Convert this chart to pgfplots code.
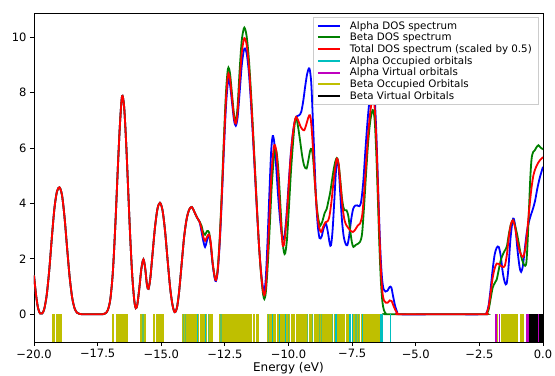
\documentclass[border=0pt]{standalone}
\usepackage{pgfplots}
\pgfplotsset{compat=1.18}
\usepackage{pgfplotstable}
\usepackage{fontspec}
\setmainfont{DejaVu Sans}
\usetikzlibrary{calc}
\definecolor{mplb}{rgb}{0,0,1}
\definecolor{mplg}{rgb}{0,0.5,0}
\definecolor{mplr}{rgb}{1,0,0}
\definecolor{mplc}{rgb}{0,0.75,0.75}
\definecolor{mplm}{rgb}{0.75,0,0.75}
\definecolor{mply}{rgb}{0.75,0.75,0}

\pgfplotstableread{
x y
-20.00 1.40
-19.92 0.70
-19.84 0.22
-19.76 0.03
-19.68 0.03
-19.60 0.18
-19.50 0.70
-19.40 1.60
-19.30 2.75
-19.20 3.80
-19.10 4.42
-19.00 4.58
-18.90 4.30
-18.80 3.50
-18.70 2.40
-18.60 1.35
-18.50 0.60
-18.40 0.20
-18.30 0.05
-18.20 0.01
-18.00 0.00
-17.60 0.00
-17.30 0.00
-17.20 0.03
-17.10 0.15
-17.00 0.55
-16.90 1.55
-16.80 3.30
-16.70 5.40
-16.62 6.90
-16.54 7.87
-16.46 7.50
-16.38 6.20
-16.30 4.50
-16.22 2.80
-16.14 1.40
-16.06 0.50
-16.00 0.22
-15.94 0.35
-15.86 0.95
-15.78 1.65
-15.70 1.98
-15.63 1.65
-15.56 1.05
-15.50 0.92
-15.43 1.30
-15.35 2.10
-15.25 3.10
-15.15 3.80
-15.05 4.02
-14.95 3.75
-14.85 3.00
-14.75 1.95
-14.65 0.95
-14.57 0.40
-14.50 0.12
-14.45 0.08
-14.38 0.25
-14.30 0.80
-14.20 1.80
-14.10 2.80
-14.00 3.45
-13.90 3.78
-13.80 3.87
-13.70 3.70
-13.60 3.50
-13.50 3.35
-13.42 3.10
-13.35 2.80
-13.28 2.65
-13.20 2.80
-13.12 2.88
-13.05 2.55
-12.98 1.85
-12.90 1.35
-12.85 1.23
-12.78 1.60
-12.70 2.70
-12.62 4.30
-12.54 6.10
-12.46 7.70
-12.40 8.45
-12.36 8.69
-12.30 8.50
-12.22 7.80
-12.14 7.10
-12.07 6.88
-12.00 7.30
-11.92 8.40
-11.84 9.40
-11.76 9.90
-11.71 9.95
-11.64 9.70
-11.56 9.00
-11.48 7.90
-11.40 6.60
-11.32 5.20
-11.24 3.80
-11.16 2.50
-11.08 1.50
-11.01 0.90
-10.95 0.69
-10.89 1.00
-10.82 2.10
-10.74 3.70
-10.66 5.20
-10.58 6.00
-10.53 6.10
-10.47 5.80
-10.40 4.90
-10.32 3.60
-10.26 2.80
-10.22 2.47
-10.16 2.60
-10.08 3.40
-10.00 4.50
-9.92 5.60
-9.84 6.40
-9.76 6.95
-9.70 7.12
-9.62 7.00
-9.54 6.80
-9.46 6.68
-9.38 6.64
-9.30 6.85
-9.22 7.10
-9.15 7.18
-9.09 6.70
-9.02 5.70
-8.95 4.60
-8.88 3.70
-8.80 3.15
-8.72 2.97
-8.64 3.15
-8.55 3.32
-8.47 3.35
-8.40 3.50
-8.32 4.00
-8.24 4.70
-8.16 5.30
-8.10 5.62
-8.03 5.40
-7.96 4.70
-7.88 3.90
-7.80 3.40
-7.72 3.20
-7.64 3.10
-7.55 3.00
-7.47 2.97
-7.38 3.05
-7.28 3.20
-7.19 3.27
-7.10 3.60
-7.02 4.50
-6.94 5.60
-6.86 6.60
-6.78 7.35
-6.72 7.70
-6.67 7.78
-6.61 7.40
-6.55 6.30
-6.49 4.70
-6.43 3.00
-6.37 1.60
-6.31 0.80
-6.25 0.50
-6.18 0.42
-6.10 0.42
-6.02 0.50
-5.95 0.48
-5.88 0.32
-5.80 0.15
-5.72 0.04
-5.65 0.00
-4.00 0.00
-2.30 0.00
-2.22 0.04
-2.14 0.25
-2.06 0.75
-1.98 1.30
-1.90 1.65
-1.82 1.83
-1.74 1.82
-1.66 1.75
-1.58 1.71
-1.50 1.75
-1.42 2.15
-1.34 2.80
-1.26 3.25
-1.18 3.39
-1.10 3.15
-1.02 2.70
-0.94 2.35
-0.86 2.15
-0.78 2.07
-0.70 2.35
-0.62 3.00
-0.54 3.80
-0.46 4.50
-0.38 5.00
-0.30 5.25
-0.20 5.45
-0.10 5.58
0.00 5.67
}\totaldos

\pgfplotstableread{
x y
-20.00 1.40
-19.92 0.70
-19.84 0.22
-19.76 0.03
-19.68 0.03
-19.60 0.18
-19.50 0.70
-19.40 1.60
-19.30 2.75
-19.20 3.80
-19.10 4.42
-19.00 4.58
-18.90 4.30
-18.80 3.50
-18.70 2.40
-18.60 1.35
-18.50 0.60
-18.40 0.20
-18.30 0.05
-18.20 0.01
-18.00 0.00
-17.60 0.00
-17.30 0.00
-17.20 0.03
-17.10 0.15
-17.00 0.55
-16.90 1.55
-16.80 3.30
-16.70 5.40
-16.62 6.90
-16.54 7.87
-16.46 7.50
-16.38 6.20
-16.30 4.50
-16.22 2.80
-16.14 1.40
-16.06 0.50
-16.00 0.22
-15.94 0.35
-15.86 0.95
-15.78 1.65
-15.70 1.98
-15.63 1.65
-15.56 1.05
-15.50 0.92
-15.43 1.30
-15.35 2.10
-15.25 3.10
-15.15 3.80
-15.05 4.02
-14.95 3.75
-14.85 3.00
-14.75 1.95
-14.65 0.95
-14.57 0.40
-14.50 0.12
-14.45 0.08
-14.38 0.25
-14.30 0.80
-14.20 1.80
-14.10 2.80
-14.00 3.45
-13.90 3.78
-13.80 3.87
-13.70 3.70
-13.60 3.50
-13.50 3.35
-13.42 3.00
-13.35 2.65
-13.28 2.43
-13.22 2.60
-13.14 2.85
-13.07 2.60
-12.98 1.80
-12.90 1.30
-12.85 1.20
-12.78 1.55
-12.70 2.60
-12.62 4.15
-12.54 5.90
-12.46 7.45
-12.40 8.20
-12.36 8.48
-12.30 8.30
-12.22 7.65
-12.14 7.00
-12.07 6.80
-12.00 7.10
-11.92 8.00
-11.84 8.95
-11.76 9.50
-11.71 9.59
-11.64 9.40
-11.56 8.75
-11.48 7.70
-11.40 6.45
-11.32 5.10
-11.24 3.75
-11.16 2.50
-11.08 1.55
-11.01 1.00
-10.96 0.85
-10.90 1.20
-10.83 2.50
-10.75 4.40
-10.68 5.90
-10.62 6.43
-10.56 6.20
-10.49 5.40
-10.41 4.30
-10.33 3.40
-10.26 2.85
-10.20 2.72
-10.14 2.95
-10.06 3.80
-9.98 4.90
-9.90 5.90
-9.82 6.60
-9.74 7.00
-9.66 7.15
-9.58 7.18
-9.50 7.30
-9.42 7.70
-9.34 8.25
-9.26 8.70
-9.18 8.87
-9.11 8.40
-9.05 7.20
-8.98 5.60
-8.92 4.20
-8.85 3.20
-8.78 2.75
-8.70 2.80
-8.62 3.10
-8.53 3.27
-8.45 2.95
-8.38 2.55
-8.33 2.49
-8.27 3.00
-8.20 4.10
-8.14 5.10
-8.09 5.60
-8.03 5.30
-7.97 4.40
-7.90 3.40
-7.83 2.80
-7.76 2.55
-7.69 2.49
-7.62 2.80
-7.54 3.40
-7.46 3.80
-7.38 3.92
-7.30 3.93
-7.21 3.90
-7.14 4.10
-7.06 4.80
-6.98 5.90
-6.90 6.90
-6.82 7.70
-6.74 8.15
-6.68 8.27
-6.62 7.90
-6.56 6.80
-6.50 5.20
-6.44 3.50
-6.38 2.10
-6.32 1.25
-6.26 0.90
-6.19 0.82
-6.11 0.85
-6.03 0.98
-5.96 0.97
-5.89 0.65
-5.81 0.30
-5.73 0.08
-5.65 0.00
-4.00 0.00
-2.30 0.00
-2.22 0.05
-2.14 0.30
-2.06 0.90
-1.98 1.60
-1.90 2.15
-1.82 2.40
-1.74 2.43
-1.66 2.10
-1.58 1.50
-1.50 1.15
-1.43 1.10
-1.36 1.65
-1.28 2.70
-1.20 3.35
-1.15 3.45
-1.08 3.10
-1.00 2.30
-0.92 1.70
-0.86 1.53
-0.79 1.75
-0.71 2.40
-0.63 3.00
-0.55 3.35
-0.47 3.60
-0.39 3.82
-0.31 4.10
-0.22 4.55
-0.12 4.95
0.00 5.32
}\alphados

\pgfplotstableread{
x y
-20.00 1.40
-19.92 0.70
-19.84 0.22
-19.76 0.03
-19.68 0.03
-19.60 0.18
-19.50 0.70
-19.40 1.60
-19.30 2.75
-19.20 3.80
-19.10 4.42
-19.00 4.58
-18.90 4.30
-18.80 3.50
-18.70 2.40
-18.60 1.35
-18.50 0.60
-18.40 0.20
-18.30 0.05
-18.20 0.01
-18.00 0.00
-17.60 0.00
-17.30 0.00
-17.20 0.03
-17.10 0.15
-17.00 0.55
-16.90 1.55
-16.80 3.30
-16.70 5.40
-16.62 6.90
-16.54 7.87
-16.46 7.50
-16.38 6.20
-16.30 4.50
-16.22 2.80
-16.14 1.40
-16.06 0.50
-16.00 0.22
-15.94 0.35
-15.86 0.95
-15.78 1.65
-15.70 1.98
-15.63 1.65
-15.56 1.05
-15.50 0.92
-15.43 1.30
-15.35 2.10
-15.25 3.10
-15.15 3.80
-15.05 4.02
-14.95 3.75
-14.85 3.00
-14.75 1.95
-14.65 0.95
-14.57 0.40
-14.50 0.12
-14.45 0.08
-14.38 0.25
-14.30 0.80
-14.20 1.80
-14.10 2.80
-14.00 3.45
-13.90 3.78
-13.80 3.87
-13.70 3.70
-13.60 3.50
-13.50 3.35
-13.42 3.20
-13.35 2.95
-13.28 2.87
-13.20 3.00
-13.12 2.95
-13.05 2.50
-12.98 1.85
-12.90 1.35
-12.85 1.25
-12.78 1.65
-12.70 2.80
-12.62 4.45
-12.54 6.30
-12.46 7.95
-12.40 8.70
-12.36 8.90
-12.30 8.70
-12.22 7.95
-12.14 7.20
-12.07 6.95
-12.00 7.50
-11.92 8.80
-11.84 9.85
-11.76 10.30
-11.71 10.31
-11.64 10.00
-11.56 9.25
-11.48 8.10
-11.40 6.75
-11.32 5.30
-11.24 3.85
-11.16 2.50
-11.08 1.45
-11.01 0.80
-10.95 0.55
-10.89 0.80
-10.82 1.70
-10.74 3.10
-10.66 4.60
-10.58 5.60
-10.52 5.95
-10.46 5.80
-10.39 5.10
-10.31 3.80
-10.24 2.70
-10.18 2.25
-10.13 2.20
-10.06 2.70
-9.98 3.90
-9.90 5.20
-9.82 6.20
-9.76 6.85
-9.70 7.10
-9.63 6.80
-9.55 6.30
-9.46 5.70
-9.38 5.35
-9.29 5.26
-9.22 5.55
-9.15 5.90
-9.09 5.96
-9.03 5.60
-8.96 4.70
-8.89 3.90
-8.82 3.40
-8.75 3.20
-8.67 3.35
-8.58 3.65
-8.50 3.80
-8.44 4.05
-8.36 4.40
-8.28 4.90
-8.20 5.35
-8.13 5.60
-8.08 5.62
-8.02 5.35
-7.96 4.80
-7.90 4.20
-7.84 3.85
-7.78 3.75
-7.72 3.75
-7.65 3.55
-7.58 3.05
-7.51 2.60
-7.45 2.43
-7.36 2.50
-7.26 2.55
-7.19 2.61
-7.11 2.90
-7.03 3.90
-6.95 5.10
-6.87 6.20
-6.79 6.95
-6.72 7.30
-6.67 7.36
-6.61 6.95
-6.55 5.80
-6.49 4.20
-6.43 2.50
-6.37 1.20
-6.31 0.45
-6.25 0.15
-6.18 0.03
-6.10 0.00
-4.00 0.00
-2.30 0.00
-2.22 0.02
-2.14 0.15
-2.06 0.55
-1.98 0.95
-1.90 1.12
-1.82 1.25
-1.74 1.60
-1.66 1.95
-1.58 2.15
-1.50 2.30
-1.42 2.45
-1.34 2.90
-1.26 3.25
-1.18 3.39
-1.10 3.20
-1.02 2.90
-0.94 2.50
-0.86 2.10
-0.78 1.85
-0.70 1.75
-0.65 1.90
-0.60 2.70
-0.55 3.80
-0.50 4.90
-0.45 5.60
-0.39 5.85
-0.32 5.92
-0.24 6.05
-0.18 6.10
-0.10 6.02
0.00 5.95
}\betados

% orbital energies (lines drawn from 0 down to -1)
\pgfplotstableread{
x y
-19.27 -1
-19.22 -1
-19.12 -1
-19.07 -1
-19.02 -1
-18.97 -1
-18.92 -1
-16.92 -1
-16.87 -1
-16.76 -1
-16.71 -1
-16.66 -1
-16.61 -1
-16.56 -1
-16.51 -1
-16.46 -1
-16.41 -1
-16.36 -1
-16.32 -1
-15.80 -1
-15.75 -1
-15.70 -1
-15.65 -1
-15.31 -1
-15.26 -1
-15.16 -1
-15.11 -1
-15.06 -1
-15.01 -1
-14.96 -1
-14.92 -1
-14.15 -1
-14.10 -1
-14.05 -1
-14.00 -1
-13.95 -1
-13.90 -1
-13.85 -1
-13.80 -1
-13.75 -1
-13.70 -1
-13.65 -1
-13.60 -1
-13.55 -1
-13.45 -1
-13.40 -1
-13.35 -1
-13.30 -1
-13.25 -1
-13.15 -1
-13.10 -1
-13.05 -1
-13.00 -1
-12.68 -1
-12.63 -1
-12.58 -1
-12.53 -1
-12.48 -1
-12.43 -1
-12.38 -1
-12.33 -1
-12.28 -1
-12.23 -1
-12.18 -1
-12.13 -1
-12.08 -1
-12.03 -1
-11.98 -1
-11.93 -1
-11.88 -1
-11.83 -1
-11.78 -1
-11.73 -1
-11.68 -1
-11.63 -1
-11.58 -1
-11.53 -1
-11.48 -1
-11.38 -1
-11.33 -1
-11.23 -1
-11.18 -1
-10.82 -1
-10.77 -1
-10.72 -1
-10.67 -1
-10.62 -1
-10.57 -1
-10.52 -1
-10.42 -1
-10.37 -1
-10.32 -1
-10.27 -1
-10.22 -1
-10.17 -1
-10.12 -1
-10.07 -1
-10.02 -1
-9.97 -1
-9.87 -1
-9.82 -1
-9.77 -1
-9.67 -1
-9.62 -1
-9.57 -1
-9.52 -1
-9.47 -1
-9.42 -1
-9.37 -1
-9.32 -1
-9.27 -1
-9.17 -1
-9.12 -1
-9.07 -1
-8.97 -1
-8.87 -1
-8.82 -1
-8.77 -1
-8.72 -1
-8.67 -1
-8.62 -1
-8.57 -1
-8.52 -1
-8.47 -1
-8.42 -1
-8.32 -1
-8.27 -1
-8.17 -1
-8.12 -1
-8.07 -1
-8.02 -1
-7.97 -1
-7.92 -1
-7.87 -1
-7.82 -1
-7.72 -1
-7.67 -1
-7.62 -1
-7.57 -1
-7.47 -1
-7.42 -1
-7.37 -1
-7.32 -1
-7.27 -1
-7.22 -1
-7.12 -1
-7.07 -1
-7.02 -1
-6.97 -1
-6.92 -1
-6.87 -1
-6.82 -1
-6.77 -1
-6.72 -1
-6.67 -1
-6.62 -1
-6.57 -1
-6.52 -1
-6.47 -1
-6.42 -1
-6.37 -1
-1.80 -1
-1.62 -1
-1.57 -1
-1.52 -1
-1.47 -1
-1.42 -1
-1.33 -1
-1.28 -1
-1.23 -1
-1.18 -1
-1.10 -1
-1.05 -1
-1.00 -1
-0.88 -1
-0.83 -1
-0.78 -1
}\betaocc

\pgfplotstableread{
x y
-15.75 -1
-15.70 -1
-14.13 -1
-14.05 -1
-13.15 -1
-12.66 -1
-12.62 -1
-10.78 -1
-10.00 -1
-9.25 -1
-9.05 -1
-8.79 -1
-8.70 -1
-8.26 -1
-7.35 -1
-7.25 -1
}\alphaoccmix

\pgfplotstableread{
x y
-13.57 -1
-13.27 -1
-10.62 -1
-10.36 -1
-10.13 -1
-8.13 -1
-7.58 -1
-7.50 -1
-7.09 -1
-6.37 -1
-6.33 -1
-6.00 -1
}\alphaocc

\pgfplotstableread{
x y
-1.84 -1
-1.72 -1
-0.66 -1
-0.61 -1
-0.55 -1
-0.18 -1
}\alphavirt

\pgfplotstableread{
x y
-0.50 -1
-0.45 -1
-0.40 -1
-0.35 -1
-0.30 -1
-0.25 -1
-0.22 -1
-0.14 -1
-0.10 -1
-0.05 -1
-0.01 -1
}\betavirt

\begin{document}
\begin{tikzpicture}
\begin{axis}[
  scale only axis,
  width=509pt, height=329pt,
  xmin=-20, xmax=0, ymin=-1, ymax=10.87,
  xtick={-20,-17.5,-15,-12.5,-10,-7.5,-5,-2.5,0},
  xticklabels={−20.0,−17.5,−15.0,−12.5,−10.0,−7.5,−5.0,−2.5,0.0},
  ytick={0,2,4,6,8,10},
  yticklabels={0,2,4,6,8,10},
  tick align=outside,
  xtick pos=lower, ytick pos=left,
  major tick length=4pt,
  every tick/.style={black, line width=0.8pt},
  axis line style={black, line width=0.8pt},
  ticklabel style={font=\fontsize{11.5}{13}\selectfont},
  xlabel={Energy (eV)},
  xlabel style={font=\fontsize{12}{14}\selectfont, at={(axis description cs:0.5,0)}, anchor=base, yshift=-30pt},
  legend cell align=left,
  legend style={at={(1,1)}, anchor=north east, xshift=-5pt, yshift=-4pt,
    font=\fontsize{10.3}{12}\selectfont,
    draw=black!20, fill=white,
    inner xsep=4pt, inner ysep=2pt, row sep=-1.6pt,
    /tikz/every odd column/.append style={column sep=7pt}},
  legend image code/.code={\draw[#1, line width=2pt] (0pt,0pt) -- (22pt,0pt);},
]
\addplot[color=mplb, line width=1.8pt, smooth] table[x=x,y=y] {\alphados};
\addlegendentry{Alpha DOS spectrum}
\addplot[color=mplg, line width=1.8pt, smooth] table[x=x,y=y] {\betados};
\addlegendentry{Beta DOS spectrum}
\addplot[color=mplr, line width=1.8pt, smooth] table[x=x,y=y] {\totaldos};
\addlegendentry{Total DOS spectrum (scaled by 0.5)}

\addplot[ycomb, color=mply, line width=1.6pt, forget plot] table[x=x,y=y] {\betaocc};
\addplot[ycomb, color=mplc, opacity=0.5, line width=1.2pt, forget plot] table[x=x,y=y] {\alphaoccmix};
\addplot[ycomb, color=mplc, line width=1.2pt, forget plot] table[x=x,y=y] {\alphaocc};
\addplot[ycomb, color=mplm, line width=1.4pt, forget plot] table[x=x,y=y] {\alphavirt};
\addplot[ycomb, color=black, line width=1.6pt, forget plot] table[x=x,y=y] {\betavirt};

\addlegendimage{color=mplc}
\addlegendentry{Alpha Occupied orbitals}
\addlegendimage{color=mplm}
\addlegendentry{Alpha Virtual orbitals}
\addlegendimage{color=mply}
\addlegendentry{Beta Occupied Orbitals}
\addlegendimage{color=black}
\addlegendentry{Beta Virtual Orbitals}
\end{axis}
\pgfresetboundingbox
\path[use as bounding box] ($(current axis.south west)+(-34pt,-34pt)$) rectangle ($(current axis.north east)+(12pt,13pt)$);
\end{tikzpicture}
\end{document}
